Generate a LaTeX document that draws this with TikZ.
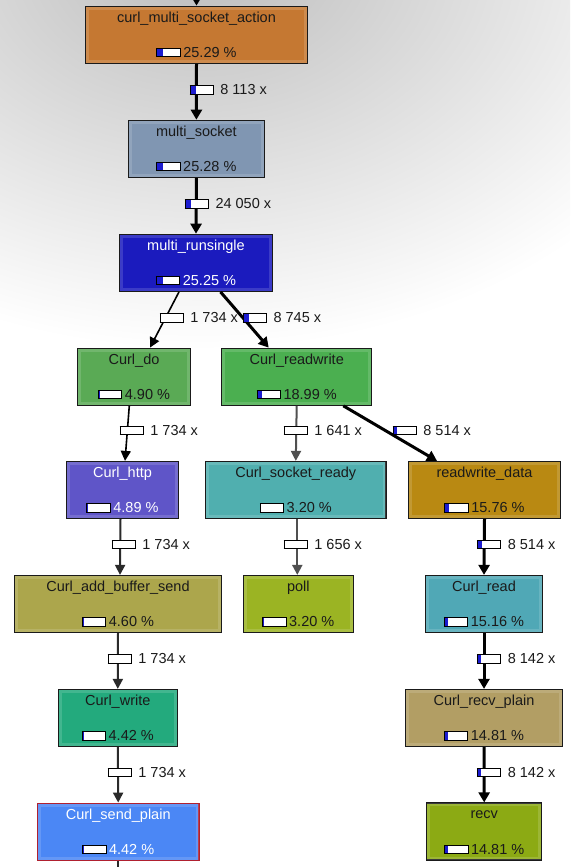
\documentclass[tikz,border=0pt]{standalone}
\usepackage{fontspec}
\setmainfont{Liberation Sans}
\usetikzlibrary{arrows.meta}
\definecolor{barblue}{HTML}{1C1CD0}
\definecolor{txtdark}{HTML}{1A1A1A}
\definecolor{cB1}{HTML}{C57832}
\definecolor{cB2}{HTML}{8096B2}
\definecolor{cB3}{HTML}{1B1BBE}
\definecolor{cDo}{HTML}{5AAA55}
\definecolor{cRW}{HTML}{4BAF50}
\definecolor{cHttp}{HTML}{5F55C8}
\definecolor{cSock}{HTML}{50AFAF}
\definecolor{cRWD}{HTML}{B98912}
\definecolor{cAdd}{HTML}{ACA64C}
\definecolor{cPoll}{HTML}{9BB423}
\definecolor{cRead}{HTML}{50A8B6}
\definecolor{cWrite}{HTML}{23AA7D}
\definecolor{cRecvP}{HTML}{B29E64}
\definecolor{cSendP}{HTML}{4B87F5}
\definecolor{cRecv}{HTML}{8CAA14}
\definecolor{redborder}{HTML}{B02030}
\definecolor{edgegrey}{HTML}{505050}
\definecolor{edgedark}{HTML}{2A2A2A}

\newcommand\pbar[1]{\raisebox{1pt}{{\color{black}\setlength\fboxrule{1pt}\setlength\fboxsep{0pt}\fbox{\textcolor{barblue}{\rule{#1pt}{7.4pt}}\textcolor{white}{\rule{\dimexpr22.4pt-#1pt\relax}{7.4pt}}}}}}

\tikzset{
  funcbox/.style={rectangle, draw, line width=1.2pt, minimum height=57pt, inner sep=0pt},
  bevel/.style={draw=white, opacity=0.14, line width=3pt},
  ftext/.style={inner sep=0pt, anchor=base, font=\fontsize{14.5pt}{17pt}\selectfont},
  elabel/.style={inner sep=0pt, anchor=base west, text=txtdark, font=\fontsize{14.5pt}{17pt}\selectfont},
  heavy/.style={draw=black, line width=3pt, -{Triangle[width=11pt,length=10pt]}},
  light/.style={draw=black, line width=1.6pt, -{Triangle[width=10pt,length=10pt]}},
  midg/.style={draw=edgegrey, line width=2pt, -{Triangle[width=10pt,length=10pt]}},
  midd/.style={draw=edgedark, line width=2pt, -{Triangle[width=10pt,length=10pt]}},
}

% #1 name, #2 centre, #3 width, #4 fill, #5 text colour, #6 border, #7 title, #8 blue width, #9 percent
\newcommand\fnode[9]{%
  \node[funcbox, minimum width=#3pt, fill=#4, draw=#6] (#1) at #2 {};
  \draw[bevel] ([shift={(2.5pt,-2.5pt)}]#1.north west) rectangle ([shift={(-2.5pt,2.5pt)}]#1.south east);
  \node[ftext, text=#5] (#1-t) at ([yshift=-16.5pt]#1.north) {#7};
  \node[ftext, text=#5] (#1-p) at ([yshift=6.5pt]#1.south) {\pbar{#8}\hspace{2.5pt}#9 \%};
}

\begin{document}
\begin{tikzpicture}[x=1pt,y=-1pt]
\useasboundingbox (0,0) rectangle (570,867);
\begin{scope}
\clip (0,0) rectangle (570,867);
\fill[white] (0,0) rectangle (570,867);
\shade[inner color=black!26, outer color=white] (200,-40) ellipse (540 and 390);

\fnode{b1}{(196.5,34.7)}{222}{cB1}{txtdark}{txtdark}{curl\_multi\_socket\_action}{5.7}{25.29}
\fnode{b2}{(196.4,148.8)}{136}{cB2}{txtdark}{txtdark}{multi\_socket}{5.7}{25.28}
\fnode{b3}{(196,262.8)}{153.4}{cB3}{white}{txtdark}{multi\_runsingle}{5.7}{25.25}
\fnode{curldo}{(134,376.7)}{113.4}{cDo}{txtdark}{txtdark}{Curl\_do}{0.8}{4.90}
\fnode{readwrite}{(296.7,376.7)}{150}{cRW}{txtdark}{txtdark}{Curl\_readwrite}{4.2}{18.99}
\fnode{http}{(122.5,490)}{111.6}{cHttp}{white}{txtdark}{Curl\_http}{0.8}{4.89}
\fnode{sockready}{(295.8,490)}{180.3}{cSock}{txtdark}{txtdark}{Curl\_socket\_ready}{0.6}{3.20}
\fnode{rwdata}{(484.5,490)}{152.4}{cRWD}{txtdark}{txtdark}{readwrite\_data}{3.5}{15.76}
\fnode{addbuf}{(118,604)}{207.4}{cAdd}{txtdark}{txtdark}{Curl\_add\_buffer\_send}{0.8}{4.60}
\fnode{poll}{(298.3,604)}{110}{cPoll}{txtdark}{txtdark}{poll}{0.6}{3.20}
\fnode{curlread}{(484,604)}{116.6}{cRead}{txtdark}{txtdark}{Curl\_read}{3.4}{15.16}
\fnode{curlwrite}{(117.8,718)}{119}{cWrite}{txtdark}{txtdark}{Curl\_write}{0.8}{4.42}
\fnode{recvplain}{(484,718)}{156.6}{cRecvP}{txtdark}{txtdark}{Curl\_recv\_plain}{3.3}{14.81}
\fnode{sendplain}{(118.2,831.7)}{161.7}{cSendP}{white}{redborder}{Curl\_send\_plain}{0.8}{4.42}
\fnode{recv}{(484.2,831.5)}{115}{cRecv}{txtdark}{txtdark}{recv}{3.3}{14.81}

\coordinate (topin) at (196.5,-20);
\coordinate (botout) at (118.2,885);

\draw[heavy] (topin) -- (b1.north);
\draw[heavy] (b1.south) -- (b2.north);
\draw[heavy] (b2.south) -- (b3.north);
\draw[light] ([xshift=-17pt]b3.south) -- ([xshift=16pt]curldo.north);
\draw[heavy] ([xshift=24.5pt]b3.south) -- ([xshift=-28pt]readwrite.north);
\draw[light] ([xshift=-4.7pt]curldo.south) -- ([xshift=2.5pt]http.north);
\draw[midg] (readwrite.south) -- (sockready.north);
\draw[heavy] ([xshift=46.6pt]readwrite.south) -- ([xshift=-47.5pt]rwdata.north);
\draw[midd] ([xshift=-2pt]http.south) -- ([xshift=2pt]addbuf.north);
\draw[midg] ([xshift=1.5pt]sockready.south) -- ([xshift=-1pt]poll.north);
\draw[heavy] (rwdata.south) -- (curlread.north);
\draw[midd] (addbuf.south) -- (curlwrite.north);
\draw[heavy] (curlread.south) -- (recvplain.north);
\draw[midd] (curlwrite.south) -- (sendplain.north);
\draw[heavy] (recvplain.south) -- (recv.north);
\draw[draw=edgedark, line width=2pt] (sendplain.south) -- (botout);

\node[elabel] (l1) at (189.3,94.7) {\pbar{5.5}\hspace{6.5pt}8 113 x};
\node[elabel] (l2) at (184.4,208.7) {\pbar{5.8}\hspace{6.5pt}24 050 x};
\node[elabel] (l3) at (159.3,322.7) {\pbar{0.6}\hspace{6.5pt}1 734 x};
\node[elabel] (l4) at (242.5,322.7) {\pbar{4.8}\hspace{6.5pt}8 745 x};
\node[elabel] (l5) at (119.3,435.4) {\pbar{0.6}\hspace{6.5pt}1 734 x};
\node[elabel] (l6) at (283.3,435.4) {\pbar{0.5}\hspace{6.5pt}1 641 x};
\node[elabel] (l7) at (392.3,435.4) {\pbar{3.6}\hspace{6.5pt}8 514 x};
\node[elabel] (l8) at (111.3,549.4) {\pbar{0.6}\hspace{6.5pt}1 734 x};
\node[elabel] (l9) at (283.3,549.4) {\pbar{0.5}\hspace{6.5pt}1 656 x};
\node[elabel] (l10) at (476.7,549.2) {\pbar{3.6}\hspace{6.5pt}8 514 x};
\node[elabel] (l11) at (107.3,663.7) {\pbar{0.6}\hspace{6.5pt}1 734 x};
\node[elabel] (l12) at (476.7,663.7) {\pbar{3.4}\hspace{6.5pt}8 142 x};
\node[elabel] (l13) at (107.3,777.4) {\pbar{0.6}\hspace{6.5pt}1 734 x};
\node[elabel] (l14) at (476.7,777.4) {\pbar{3.4}\hspace{6.5pt}8 142 x};
\end{scope}
\end{tikzpicture}
\end{document}
